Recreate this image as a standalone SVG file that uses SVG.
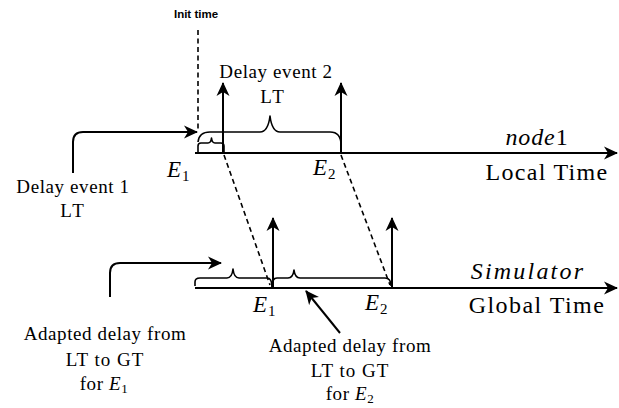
<svg xmlns="http://www.w3.org/2000/svg" width="619" height="408" viewBox="0 0 619 408">
  <style>
    .line { fill: none; stroke: #000; stroke-width: 2; }
    .brace { fill: none; stroke: #000; stroke-width: 1.6; stroke-linejoin: round; }
    .dash { fill: none; stroke: #000; stroke-width: 1.6; stroke-dasharray: 5 3.5; }
    .txt { font-family: "Liberation Serif", serif; font-size: 19px; letter-spacing: 0.6px; fill: #000; text-anchor: middle; }
    .big { font-size: 24px; letter-spacing: 1.3px; }
    .math { font-family: "Liberation Serif", serif; font-style: italic; font-size: 23px; fill: #000; }
    .sub { font-style: normal; font-size: 15px; }
    .label { font-family: "Liberation Sans", sans-serif; font-weight: bold; font-size: 11.5px; fill: #000; text-anchor: middle; }
  </style>
  <defs>
    <marker id="head" markerUnits="userSpaceOnUse" markerWidth="16" markerHeight="14" refX="13" refY="7" orient="auto">
      <path d="M0,0.5 L14,7 L0,13.5 L4,7 Z" fill="#000"/>
    </marker>
  </defs>

  <!-- time axes -->
  <g id="local-axis">
    <line class="line" x1="195" y1="153" x2="617" y2="153" marker-end="url(#head)"/>
    <text class="txt big" x="537" y="145" style="letter-spacing:0.9px"><tspan font-style="italic">node</tspan>1</text>
    <text class="txt big" x="547" y="180">Local Time</text>
  </g>
  <g id="global-axis">
    <line class="line" x1="195" y1="288" x2="617" y2="288" marker-end="url(#head)"/>
    <text class="txt big" x="528" y="279" font-style="italic" style="letter-spacing:2.2px">Simulator</text>
    <text class="txt big" x="537" y="313" style="letter-spacing:1.45px">Global Time</text>
  </g>

  <!-- init time marker -->
  <g id="init-time">
    <text class="label" x="196" y="18">Init time</text>
    <line class="dash" x1="198" y1="30" x2="198" y2="132"/>
  </g>

  <!-- events on the local axis -->
  <g id="local-e1">
    <line class="line" x1="223" y1="153" x2="223" y2="83" marker-end="url(#head)"/>
    <text class="math" x="167" y="177">E<tspan class="sub" dx="1" dy="4">1</tspan></text>
  </g>
  <g id="local-e2">
    <line class="line" x1="341" y1="153" x2="341" y2="83" marker-end="url(#head)"/>
    <text class="math" x="313" y="175">E<tspan class="sub" dx="1" dy="4">2</tspan></text>
  </g>

  <!-- events on the global axis -->
  <g id="global-e1">
    <line class="line" x1="273" y1="288" x2="273" y2="218" marker-end="url(#head)"/>
    <text class="math" x="253" y="312">E<tspan class="sub" dx="1" dy="4">1</tspan></text>
  </g>
  <g id="global-e2">
    <line class="line" x1="392" y1="288" x2="392" y2="218" marker-end="url(#head)"/>
    <text class="math" x="365" y="310">E<tspan class="sub" dx="1" dy="4">2</tspan></text>
  </g>

  <!-- delay braces, local time -->
  <g id="brace-delay1">
    <path class="brace" d="M198,153 L198,146 Q198,143 201,143 L208,143 Q211,143 211.5,138 Q212,143 215,143 L221,143 Q224,143 224,146 L224,153"/>
  </g>
  <g id="brace-delay2">
    <path class="brace" d="M198,142 Q199,132 210,132 L260,132 Q268,132 270,116 Q272,132 280,132 L330,132 Q341,132 341,145 L341,153"/>
    <text class="txt" x="276" y="78">Delay event 2</text>
    <text class="txt" x="273" y="103" style="letter-spacing:2px">LT</text>
  </g>

  <!-- adapted braces, global time -->
  <g id="brace-adapted1">
    <path class="brace" d="M195,286 L195,282 Q195,278 200,278 L227,278 Q232,278 233,269 Q234,278 239,278 L267,278 Q272,278 272,287"/>
  </g>
  <g id="brace-adapted2">
    <path class="brace" d="M272,287 Q272,278 277,278 L288,278 Q293,278 294,270 Q295,278 300,278 L385,278 Q391,278 391,286"/>
  </g>

  <!-- annotations -->
  <g id="note-delay1">
    <text class="txt" x="73" y="193">Delay event 1</text>
    <text class="txt" x="73" y="217" style="letter-spacing:2px">LT</text>
  </g>
  <g id="note-adapted1">
    <text class="txt" x="105" y="340">Adapted delay from</text>
    <text class="txt" x="105" y="366" style="letter-spacing:1px">LT to GT</text>
    <text class="txt" x="104" y="390">for <tspan font-style="italic">E</tspan><tspan font-size="13px" dy="3">1</tspan></text>
  </g>
  <g id="note-adapted2">
    <text class="txt" x="350" y="352">Adapted delay from</text>
    <text class="txt" x="350" y="377" style="letter-spacing:1px">LT to GT</text>
    <text class="txt" x="350" y="400">for <tspan font-style="italic">E</tspan><tspan font-size="13px" dy="3">2</tspan></text>
  </g>

  <!-- connectors -->
  <g id="connectors">
    <path class="line" d="M73,173 L73,142 Q73,132 83,132 L197,132" marker-end="url(#head)"/>
    <path class="line" d="M110,297 L110,273 Q110,263 120,263 L221,263" marker-end="url(#head)"/>
    <line class="line" x1="340" y1="333" x2="306" y2="291" marker-end="url(#head)"/>
    <line class="dash" x1="224" y1="155" x2="270" y2="285"/>
    <line class="dash" x1="341" y1="155" x2="390" y2="285"/>
  </g>
</svg>
